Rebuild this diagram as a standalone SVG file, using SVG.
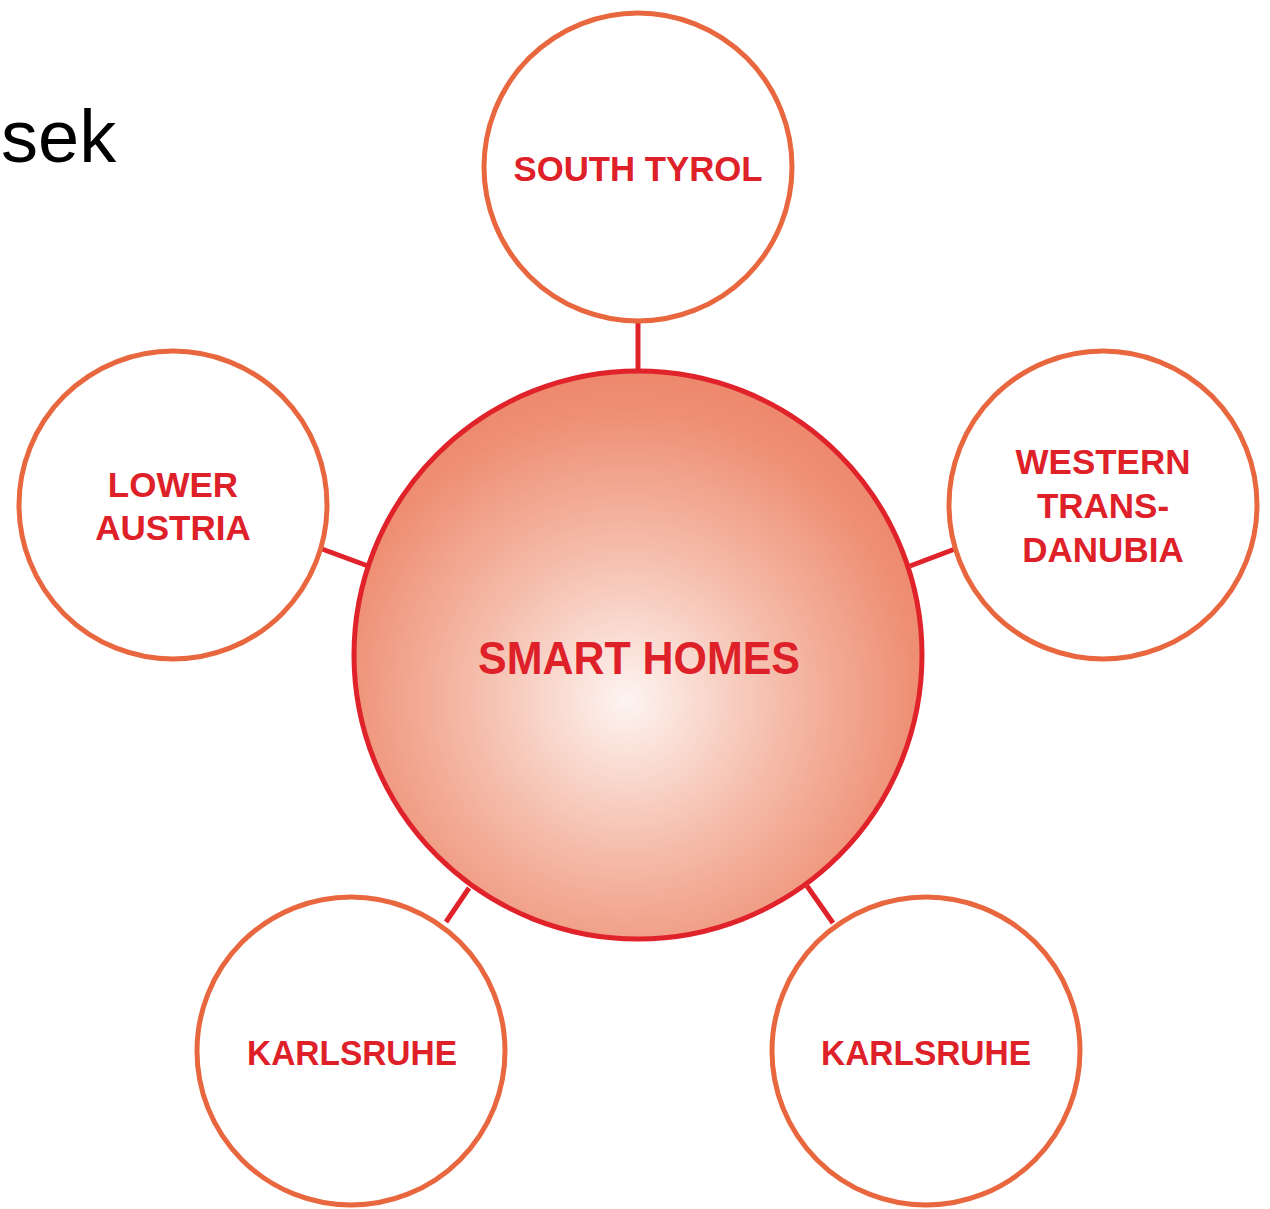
<svg xmlns="http://www.w3.org/2000/svg" width="1270" height="1209" viewBox="0 0 1270 1209">
<style>
.sat{fill:#fff;stroke:#e8673f;stroke-width:5}
.lbl{font-family:"Liberation Sans",Arial,sans-serif;font-weight:bold;fill:#de2129;text-anchor:middle;font-size:35px}
.con{stroke:#e0222a;stroke-width:5;fill:none}
</style>
<defs>
<radialGradient id="g" cx="0.48" cy="0.58" r="0.6">
<stop offset="0" stop-color="#fdf4f1"/>
<stop offset="0.45" stop-color="#f5bcaa"/>
<stop offset="0.85" stop-color="#ee8f74"/>
<stop offset="1" stop-color="#ec866a"/>
</radialGradient>
</defs>
<rect width="1270" height="1209" fill="#fff"/>
<text x="1" y="162" font-family="Liberation Sans,Arial,sans-serif" font-size="74" fill="#000">sek</text>
<g id="connectors">
<line class="con" x1="638" y1="320" x2="638" y2="372"/>
<line class="con" x1="322" y1="549" x2="368" y2="566"/>
<line class="con" x1="910" y1="566" x2="955" y2="549"/>
<line class="con" x1="446" y1="922" x2="469" y2="888"/>
<line class="con" x1="807" y1="886" x2="833" y2="923"/>
</g>
<g id="center">
<circle cx="638" cy="655" r="284" fill="url(#g)" stroke="#e0222a" stroke-width="5"/>
<text class="lbl" x="639" y="674" style="font-size:46px" textLength="322" lengthAdjust="spacingAndGlyphs">SMART HOMES</text>
</g>
<g id="south-tyrol">
<circle class="sat" cx="638" cy="167" r="154"/>
<text class="lbl" x="638" y="181" textLength="249" lengthAdjust="spacingAndGlyphs">SOUTH TYROL</text>
</g>
<g id="lower-austria">
<circle class="sat" cx="173" cy="505" r="154"/>
<text class="lbl" x="173" y="497">LOWER</text>
<text class="lbl" x="173" y="540">AUSTRIA</text>
</g>
<g id="western-transdanubia">
<circle class="sat" cx="1103" cy="505" r="154"/>
<text class="lbl" x="1103" y="474">WESTERN</text>
<text class="lbl" x="1103" y="518">TRANS-</text>
<text class="lbl" x="1103" y="562">DANUBIA</text>
</g>
<g id="karlsruhe-left">
<circle class="sat" cx="351" cy="1051" r="154"/>
<text class="lbl" x="352" y="1065" textLength="210" lengthAdjust="spacingAndGlyphs">KARLSRUHE</text>
</g>
<g id="karlsruhe-right">
<circle class="sat" cx="926" cy="1051" r="154"/>
<text class="lbl" x="926" y="1065" textLength="210" lengthAdjust="spacingAndGlyphs">KARLSRUHE</text>
</g>
</svg>
